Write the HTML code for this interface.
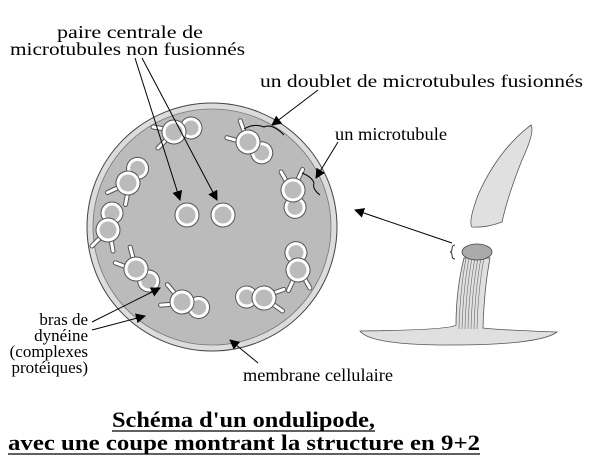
<!DOCTYPE html>
<html><head><meta charset="utf-8"><style>body{margin:0;background:#fff}svg{display:block}svg text{font-family:"Liberation Serif","DejaVu Serif",serif}</style></head><body>
<svg width="600" height="474" viewBox="0 0 600 474" xmlns="http://www.w3.org/2000/svg">
<defs>
<marker id="ah" viewBox="0 0 10 10" refX="9" refY="5" markerWidth="10" markerHeight="10" orient="auto-start-reverse" markerUnits="userSpaceOnUse"><path d="M0,0 L10,5 L0,10 z" fill="#000"/></marker>
<g id="d">
<line x1="-7" y1="-7" x2="-16" y2="-16" stroke="#555" stroke-width="5" stroke-linecap="round"/>
<line x1="-7" y1="-7" x2="-16" y2="-16" stroke="#fff" stroke-width="3" stroke-linecap="round"/>
<line x1="-9" y1="3" x2="-21" y2="5" stroke="#555" stroke-width="5" stroke-linecap="round"/>
<line x1="-9" y1="3" x2="-21" y2="5" stroke="#fff" stroke-width="3" stroke-linecap="round"/>
<circle cx="17" cy="4" r="9" fill="#bbb" stroke="#555" stroke-width="5"/>
<circle cx="17" cy="4" r="9" fill="#bbb" stroke="#fff" stroke-width="3"/>
<circle cx="0" cy="0" r="10" fill="#bbb" stroke="#555" stroke-width="5"/>
<circle cx="0" cy="0" r="10" fill="#bbb" stroke="#fff" stroke-width="3"/>
</g>
</defs>
<ellipse cx="212" cy="227" rx="125" ry="124" fill="#dcdcdc" stroke="#444" stroke-width="1"/>
<ellipse cx="212" cy="227" rx="119" ry="118" fill="#bbb" stroke="#777" stroke-width="0.8"/>
<use href="#d" transform="translate(174,132) rotate(180) scale(-1,1)"/>
<use href="#d" transform="translate(128,183) rotate(-70)"/>
<use href="#d" transform="translate(108,230) rotate(-90)"/>
<use href="#d" transform="translate(136,269) rotate(30)"/>
<use href="#d" transform="translate(182,302) rotate(5)"/>
<use href="#d" transform="translate(264,298) rotate(170)"/>
<use href="#d" transform="translate(298,270) rotate(250)"/>
<use href="#d" transform="translate(293,190) rotate(70)"/>
<use href="#d" transform="translate(248,142) rotate(25)"/>
<circle cx="187" cy="215" r="10" fill="#bbb" stroke="#555" stroke-width="5"/><circle cx="187" cy="215" r="10" fill="#bbb" stroke="#fff" stroke-width="3"/>
<circle cx="223" cy="215" r="10" fill="#bbb" stroke="#555" stroke-width="5"/><circle cx="223" cy="215" r="10" fill="#bbb" stroke="#fff" stroke-width="3"/>
<path d="M244,129 q10,-6 20,-2 q8,-4 20,8" fill="none" stroke="#000"/>
<path d="M302,173 q10,4 12,10 q-2,6 6,12" fill="none" stroke="#000"/>
<g stroke="#000" stroke-width="1" fill="none">
<line x1="135" y1="58" x2="180" y2="200" marker-end="url(#ah)"/>
<line x1="142" y1="58" x2="217" y2="200" marker-end="url(#ah)"/>
<line x1="318" y1="90" x2="272" y2="125" marker-end="url(#ah)"/>
<line x1="338" y1="142" x2="316" y2="178" marker-end="url(#ah)"/>
<line x1="452" y1="243" x2="355" y2="210" marker-end="url(#ah)"/>
<line x1="92" y1="322" x2="160" y2="288" marker-end="url(#ah)"/>
<line x1="92" y1="330" x2="145" y2="316" marker-end="url(#ah)"/>
<line x1="258" y1="363" x2="230" y2="340" marker-end="url(#ah)"/>
</g>
<path d="M531,125 Q535,132 522,160 Q508,195 502,222 Q486,228 472,227 Q468,222 478,195 Q498,150 531,125 z" fill="#e0e0e0" stroke="#555" stroke-width="0.8"/>
<path d="M464,258 Q456,290 456,325 Q450,330 360,331 Q370,345 450,345 Q540,345 557,332 Q500,330 483,328 Q484,290 490,258 z" fill="#e0e0e0" stroke="#555" stroke-width="0.8"/>
<g stroke="#666" stroke-width="0.6" fill="none">
<path d="M466,258 Q460,290 459,329"/><path d="M469,258 Q463,290 462,329"/><path d="M472,258 Q466,290 465,329"/><path d="M475,258 Q469,290 468,329"/><path d="M478,258 Q472,290 471,329"/><path d="M481,258 Q475,290 474,329"/><path d="M484,258 Q478,290 477,329"/>
</g>
<ellipse cx="477" cy="252" rx="15" ry="8" fill="#aaa" stroke="#444" stroke-width="0.8"/>
<path d="M455,245 q-3,0 -3,4 q0,3 -2,3 q2,0 2,3 q0,4 3,4" fill="none" stroke="#000" stroke-width="0.8"/>
<g font-size="18" fill="#000">
<text x="57" y="38" textLength="146" lengthAdjust="spacingAndGlyphs">paire centrale de</text>
<text x="10" y="55" textLength="235" lengthAdjust="spacingAndGlyphs">microtubules non fusionnés</text>
<text x="260" y="87" textLength="323" lengthAdjust="spacingAndGlyphs">un doublet de microtubules fusionnés</text>
<text x="335" y="140" textLength="112" lengthAdjust="spacingAndGlyphs">un microtubule</text>
<text x="243" y="381" textLength="150" lengthAdjust="spacingAndGlyphs">membrane cellulaire</text>
<g text-anchor="end" font-size="17"><text x="88" y="325">bras de</text><text x="88" y="341">dynéine</text><text x="88" y="357">(complexes</text><text x="88" y="373">protéiques)</text></g>
</g>
<g font-size="22" font-weight="bold" fill="#000">
<text x="112" y="427" textLength="263" lengthAdjust="spacingAndGlyphs">Schéma d'un ondulipode,</text>
<text x="8" y="450" textLength="472" lengthAdjust="spacingAndGlyphs">avec une coupe montrant la structure en 9+2</text>
</g>
<line x1="112" y1="431" x2="375" y2="431" stroke="#000" stroke-width="1.3"/>
<line x1="8" y1="454" x2="480" y2="454" stroke="#000" stroke-width="1.3"/>
</svg>
</body></html>
